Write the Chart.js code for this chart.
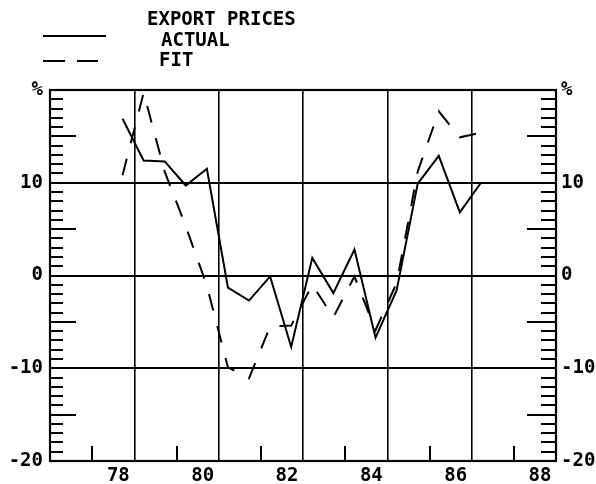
<!DOCTYPE html>
<html>
<head>
<meta charset="utf-8">
<script src="https://cdn.jsdelivr.net/npm/chart.js@4.4.0/dist/chart.umd.min.js"></script>
<style>
  html,body{margin:0;padding:0;background:#fff;}
  #wrap{position:relative;width:596px;height:484px;}
</style>
</head>
<body>
<div id="wrap"><canvas id="chart" width="596" height="484"></canvas></div>
<script>
// Export prices — actual vs fit, half-yearly, % change
const periods = [78.1, 78.6, 79.1, 79.6, 80.1, 80.6, 81.1, 81.6, 82.1, 82.6, 83.1, 83.6, 84.1, 84.6, 85.1, 85.6, 86.1, 86.6];
const actual  = [16.9, 12.4, 12.3, 9.7, 11.5, -1.3, -2.7, -0.1, -7.7, 1.9, -1.9, 2.8, -6.7, -1.6, 9.9, 12.9, 6.8, 10.0];
const fit     = [10.8, 19.7, 11.2, 5.3, -1.1, -9.9, -11.1, -5.5, -5.4, -1.0, -4.5, -0.1, -5.9, -0.8, 11.2, 17.7, 14.9, 15.4];
const yearLabels = ['78', '80', '82', '84', '86', '88'];
const yearGrid   = [78.38, 80.38, 82.38, 84.38, 86.38, 88.38];
const yTicks     = [-20, -10, 0, 10, 20];

const FONT = {family:'"DejaVu Sans Mono", monospace', size:19, weight:'bold'};
const INK = '#000';

// ── frame + minor ticks ─────────────────────────────────────────────
const framePlugin = {
  id:'frame',
  afterDraw(chart) {
    const {ctx, chartArea:a, scales} = chart;
    ctx.save();
    ctx.strokeStyle = INK;
    ctx.lineWidth = 2;
    ctx.beginPath();
    for (let v = -19; v <= 19; v++) {
      if (v % 10 === 0) continue;
      const y = Math.round(scales.y.getPixelForValue(v));
      const long = v % 5 === 0;
      ctx.moveTo(a.left, y);  ctx.lineTo(a.left + (long ? 26 : 13), y);
      ctx.moveTo(a.right, y); ctx.lineTo(a.right - (long ? 29 : 15), y);
    }
    yearGrid.forEach(g => {
      const x = Math.round(scales.x.getPixelForValue(g - 1));
      ctx.moveTo(x, a.bottom); ctx.lineTo(x, a.bottom - 15);
    });
    ctx.stroke();
    ctx.lineWidth = 2.2;
    ctx.strokeRect(a.left, a.top, a.right - a.left, a.bottom - a.top);
    ctx.restore();
  }
};

// ── legend (top left) ───────────────────────────────────────────────
const legendPlugin = {
  id:'oldLegend',
  afterDraw(chart) {
    const ctx = chart.ctx;
    ctx.save();
    ctx.fillStyle = INK;
    ctx.strokeStyle = INK;
    ctx.font = `${FONT.weight} ${FONT.size}px ${FONT.family}`;
    ctx.textBaseline = 'alphabetic';
    ctx.fillText('EXPORT PRICES', 147, 25);
    ctx.fillText('ACTUAL', 161, 46);
    ctx.fillText('FIT', 159, 66);
    ctx.lineWidth = 2;
    ctx.beginPath(); ctx.moveTo(43, 36); ctx.lineTo(106, 36); ctx.stroke();
    ctx.setLineDash([22, 12]);
    ctx.beginPath(); ctx.moveTo(43, 61); ctx.lineTo(98, 61); ctx.stroke();
    ctx.restore();
  }
};

const yAxisBase = {
  type:'linear', min:-20, max:20,
  afterBuildTicks: s => { s.ticks = yTicks.map(v => ({value:v})); },
  border:{display:false},
};

new Chart(document.getElementById('chart'), {
  type:'line',
  data:{
    datasets:[
      { label:'ACTUAL', data:periods.map((x,i)=>({x, y:actual[i]})),
        borderColor:INK, borderWidth:2, pointRadius:0, tension:0, fill:false },
      { label:'FIT', data:periods.map((x,i)=>({x, y:fit[i]})),
        borderColor:INK, borderWidth:2, borderDash:[17,16], pointRadius:0, tension:0, fill:false },
    ]
  },
  options:{
    responsive:false, animation:false, devicePixelRatio:1,
    layout:{ padding:{top:90, left:0, right:0, bottom:0} },
    plugins:{ legend:{display:false}, title:{display:false}, tooltip:{enabled:false} },
    scales:{
      x:{
        type:'linear', min:76.38, max:88.38,
        afterBuildTicks: s => { s.ticks = yearGrid.map(v => ({value:v})); },
        afterFit: s => { s.height = 23; },
        border:{display:false},
        grid:{ color:INK, lineWidth:1.6, drawTicks:false },
        ticks:{ font:FONT, color:INK, padding:4, labelOffset:-16, maxRotation:0, autoSkip:false,
                callback:(v,i) => yearLabels[i] },
      },
      y:{
        ...yAxisBase, position:'left',
        afterFit: s => { s.width = 50; },
        grid:{ color:INK, lineWidth:2, drawTicks:false },
        ticks:{ font:FONT, color:INK, padding:7, callback:v => v === 20 ? '%' : String(v) },
      },
      y2:{
        ...yAxisBase, position:'right',
        afterFit: s => { s.width = 40; },
        grid:{ drawOnChartArea:false, drawTicks:false },
        ticks:{ font:FONT, color:INK, padding:5, callback:v => v === 20 ? '%' : String(v) },
      },
    },
  },
  plugins:[framePlugin, legendPlugin],
});
</script>
</body>
</html>
